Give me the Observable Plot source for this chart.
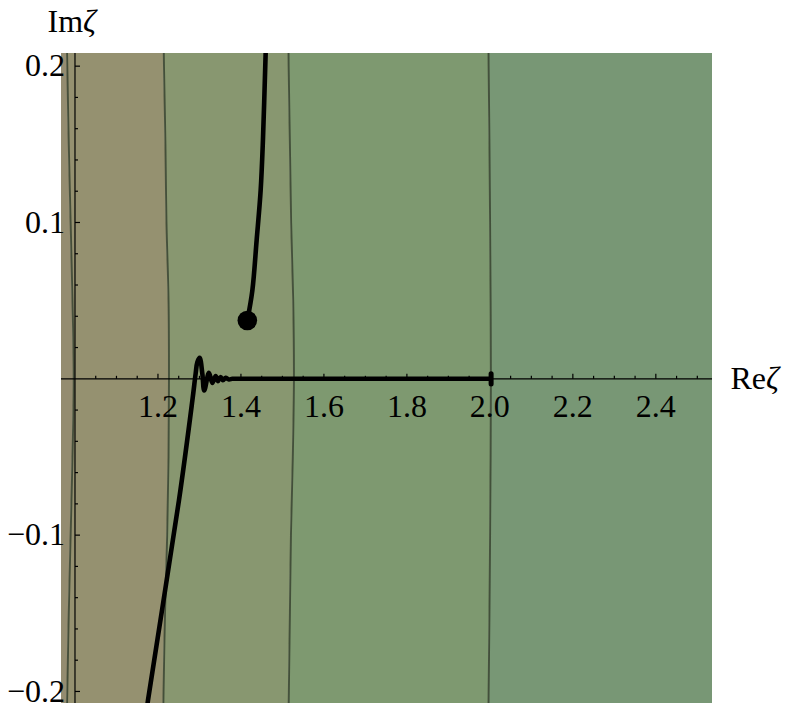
<!DOCTYPE html>
<html>
<head>
<meta charset="utf-8">
<script src="https://cdn.jsdelivr.net/npm/d3@7"></script>
<script src="https://cdn.jsdelivr.net/npm/@observablehq/plot@0.6"></script>
<style>
  html, body { margin: 0; padding: 0; background: white; }
  #chart { width: 786px; height: 712px; }
  #chart svg text { font-family: "Liberation Serif", serif !important; }
</style>
</head>
<body>
<div id="chart"></div>
<script>
// ---- Data ----
const reDomain = [0.9675, 2.5366];
const imDomain = [-0.2077, 0.2081];

// contour boundaries (Re value at each sampled Im)
const contourIm = [-0.22, -0.2, -0.15, -0.1, -0.05, 0, 0.05, 0.1, 0.15, 0.2, 0.22];
const contour1Re = [0.980, 0.9815, 0.985, 0.9895, 0.994, 0.997, 0.994, 0.9895, 0.985, 0.9815, 0.980];
const contour2Re = [1.2125, 1.2135, 1.217, 1.2222, 1.2255, 1.2265, 1.2255, 1.2205, 1.218, 1.2145, 1.2135];
const contour3Re = [1.5145, 1.5155, 1.518, 1.5205, 1.525, 1.5277, 1.526, 1.521, 1.518, 1.515, 1.5145];
const contour4Re = [1.9965, 1.997, 1.999, 2.0005, 2.0018, 2.0024, 2.0018, 2.0005, 1.999, 1.997, 1.9965];
const regionColors = ["#948C70", "#959170", "#889770", "#7E9970", "#789775"];

// upper trajectory (ends in a dot)
const upperRe = [1.461, 1.4595, 1.453, 1.4475, 1.4378, 1.4275, 1.4154];
const upperIm = [0.22, 0.2079, 0.1525, 0.1205, 0.0885, 0.0565, 0.0373];

// lower trajectory (rises, oscillates, runs along the real axis to 2.0)
const lowerRe = [1.1716, 1.1759, 1.2506, 1.2829, 1.2908, 1.2949, 1.3005, 1.307, 1.3115, 1.3229, 1.331, 1.339, 1.3446, 1.351, 1.3566, 1.363, 1.371, 1.379, 1.39, 1.45, 1.6, 1.8, 1.95, 1.99, 2.0];
const lowerIm = [-0.2154, -0.2057, -0.0778, -0.0139, 0.0032, 0.0106, 0.0134, 0.0032, -0.0075, 0.0038, -0.0026, 0.0017, -0.0015, 0.0011, -0.0009, 0.0006, -0.0004, 0, 0, 0, 0, 0, 0, 0, 0];
// small end mark of the lower trajectory at Re = 2.0
const endRe = [2.003, 2.003];
const endIm = [0.0033, -0.0033];

// ticks
const reMajor = [1.2, 1.4, 1.6, 1.8, 2.0, 2.2, 2.4];
const reLabels = ["1.2", "1.4", "1.6", "1.8", "2.0", "2.2", "2.4"];
const reMinor = [1.05, 1.1, 1.15, 1.25, 1.3, 1.35, 1.45, 1.5, 1.55, 1.65, 1.7, 1.75, 1.85, 1.9, 1.95, 2.05, 2.1, 2.15, 2.25, 2.3, 2.35, 2.45, 2.5];
const imMajor = [-0.2, -0.1, 0.1, 0.2];
const imLabels = ["\u22120.2", "\u22120.1", "0.1", "0.2"];
const imMinor = [-0.18, -0.16, -0.14, -0.12, -0.08, -0.06, -0.04, -0.02, 0.02, 0.04, 0.06, 0.08, 0.12, 0.14, 0.16, 0.18];

// ---- Build ----
const serif = "Liberation Serif";
const idx = contourIm.map((_, i) => i);
const leftEdge = contourIm.map(() => reDomain[0] - 0.05);
const rightEdge = contourIm.map(() => reDomain[1] + 0.05);
const bounds = [leftEdge, contour1Re, contour2Re, contour3Re, contour4Re, rightEdge];

const tickRight = {draw(ctx, size) { const l = Math.sqrt(size / Math.PI); ctx.moveTo(0, 0); ctx.lineTo(l, 0); }};
const tickUp = {draw(ctx, size) { const l = Math.sqrt(size / Math.PI); ctx.moveTo(0, 0); ctx.lineTo(0, -l); }};

const regionMarks = regionColors.map((c, k) =>
  Plot.areaX(idx, {
    y: i => contourIm[i],
    x1: i => bounds[k][i],
    x2: i => bounds[k + 1][i],
    fill: c,
    curve: "catmull-rom",
    clip: true
  })
);
const contourMarks = [contour1Re, contour2Re, contour3Re, contour4Re].map(arr =>
  Plot.line(idx, {
    x: i => arr[i],
    y: i => contourIm[i],
    stroke: "#37422f",
    strokeOpacity: 0.85,
    strokeWidth: 1.9,
    curve: "catmull-rom",
    clip: true
  })
);

const upperIdx = upperRe.map((_, i) => i);
const lowerIdx = lowerRe.map((_, i) => i);
const endIdx = endRe.map((_, i) => i);

const fontSize = 32;
const lw = 4.6;

const chart = Plot.plot({
  width: 786,
  height: 712,
  marginTop: 53,
  marginBottom: 9,
  marginLeft: 61,
  marginRight: 74,
  x: {domain: reDomain, axis: null},
  y: {domain: imDomain, axis: null},
  style: {background: "white", overflow: "visible"},
  marks: [
    ...regionMarks,
    ...contourMarks,
    // axes crossing at (1, 0)
    Plot.ruleX([1], {stroke: "black", strokeWidth: 1.2}),
    Plot.ruleY([0], {stroke: "black", strokeWidth: 1.2}),
    Plot.dot(imMajor, {x: () => 1, y: d => d, r: 5, symbol: tickRight, stroke: "black", fill: "none", strokeWidth: 1.2}),
    Plot.dot(imMinor, {x: () => 1, y: d => d, r: 3, symbol: tickRight, stroke: "black", fill: "none", strokeWidth: 1.2}),
    Plot.dot(reMajor, {x: d => d, y: () => 0, r: 5, symbol: tickUp, stroke: "black", fill: "none", strokeWidth: 1.2}),
    Plot.dot(reMinor, {x: d => d, y: () => 0, r: 3, symbol: tickUp, stroke: "black", fill: "none", strokeWidth: 1.2}),
    // trajectories
    Plot.line(upperIdx, {x: i => upperRe[i], y: i => upperIm[i], stroke: "black", strokeWidth: lw, curve: "catmull-rom", clip: true}),
    Plot.dot([upperIdx.length - 1], {x: i => upperRe[i], y: i => upperIm[i], r: 9.8, fill: "black"}),
    Plot.line(lowerIdx, {x: i => lowerRe[i], y: i => lowerIm[i], stroke: "black", strokeWidth: lw, strokeLinecap: "round", strokeLinejoin: "round", curve: "catmull-rom", clip: true}),
    Plot.line(endIdx, {x: i => endRe[i], y: i => endIm[i], stroke: "black", strokeWidth: 5, strokeLinecap: "round"}),
    // tick labels
    Plot.text(reMajor, {x: d => d, y: () => 0, text: (d, i) => reLabels[i], dy: 38, lineAnchor: "bottom", textAnchor: "middle", fill: "black", fontSize, fontFamily: serif}),
    Plot.text(imMajor, {x: () => 1, y: d => d, text: (d, i) => imLabels[i], dx: -10, lineAnchor: "middle", textAnchor: "end", fill: "black", fontSize, fontFamily: serif}),
    // axis labels
    Plot.text(["Re\u03B6"], {frameAnchor: "right", y: () => 0, text: d => d, dx: 18, textAnchor: "start", lineAnchor: "middle", fill: "black", fontSize, fontFamily: serif}),
    Plot.text(["Im\u03B6"], {x: () => 1, frameAnchor: "top", text: d => d, dx: -27.5, dy: -21.3, textAnchor: "start", lineAnchor: "bottom", fill: "black", fontSize, fontFamily: serif})
  ]
});
chart.setAttribute("font-family", serif);

// italic zeta
const svgns = "http://www.w3.org/2000/svg";
chart.querySelectorAll("text").forEach(t => {
  const s = t.textContent;
  if (s.endsWith("\u03B6") && t.childElementCount === 0) {
    t.textContent = s.slice(0, -1);
    const ts = document.createElementNS(svgns, "tspan");
    ts.setAttribute("font-style", "italic");
    ts.textContent = "\u03B6";
    t.appendChild(ts);
  }
});

document.getElementById("chart").appendChild(chart);
</script>
</body>
</html>
